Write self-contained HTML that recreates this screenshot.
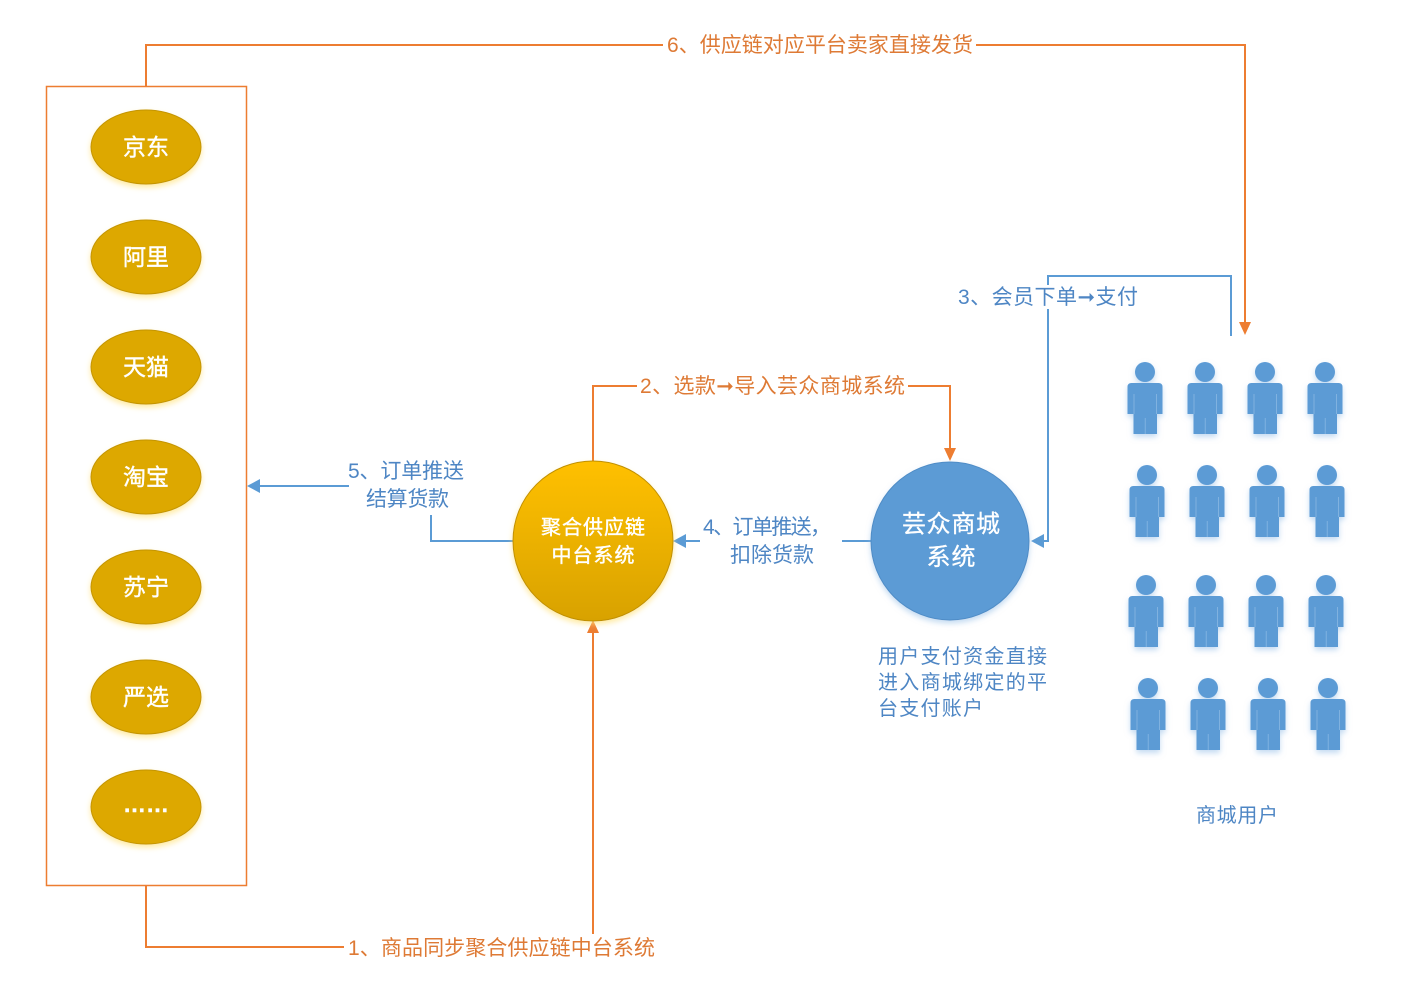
<!DOCTYPE html>
<html>
<head>
<meta charset="utf-8">
<style>
  html,body{margin:0;padding:0;background:#fff;}
  svg{display:block;}
  text{font-family:"Liberation Sans","Noto Sans CJK SC","WenQuanYi Zen Hei",sans-serif;}
</style>
</head>
<body>
<svg width="1424" height="1007" viewBox="0 0 1424 1007" xmlns="http://www.w3.org/2000/svg">
  <defs>
    <linearGradient id="goldG" x1="0" y1="0" x2="0" y2="1">
      <stop offset="0" stop-color="#FFC000"/>
      <stop offset="1" stop-color="#D8A200"/>
    </linearGradient>
    <filter id="glowY" x="-30%" y="-30%" width="160%" height="170%">
      <feDropShadow dx="0" dy="3" stdDeviation="3" flood-color="#FFE27A" flood-opacity="0.7"/>
    </filter>
    <filter id="glowB" x="-30%" y="-30%" width="160%" height="170%">
      <feDropShadow dx="0" dy="3" stdDeviation="3" flood-color="#9CC3E8" flood-opacity="0.6"/>
    </filter>
    <g id="person">
      <circle cx="0" cy="10" r="10" fill="#5B9BD5"/>
      <path d="M -17.5 25 Q -17.5 21 -13.5 21 H 13.5 Q 17.5 21 17.5 25 V 52 H 12 V 72 H -11.5 V 52 H -17.5 Z" fill="#5B9BD5"/>
      <line x1="-11" y1="32" x2="-11" y2="52" stroke="#80B2E0" stroke-width="1"/>
      <line x1="11.5" y1="32" x2="11.5" y2="52" stroke="#80B2E0" stroke-width="1"/>
      <line x1="0.25" y1="56" x2="0.25" y2="72" stroke="#80B2E0" stroke-width="1"/>
    </g>
  </defs>

  <!-- Left box -->
  <rect x="46.5" y="86.5" width="200" height="799" fill="none" stroke="#ED7D31" stroke-width="1.5"/>

  <!-- Platform ellipses -->
  <g filter="url(#glowY)">
    <ellipse cx="146" cy="147" rx="55" ry="37" fill="#DDA800" stroke="#C49500" stroke-width="1"/>
    <ellipse cx="146" cy="257" rx="55" ry="37" fill="#DDA800" stroke="#C49500" stroke-width="1"/>
    <ellipse cx="146" cy="367" rx="55" ry="37" fill="#DDA800" stroke="#C49500" stroke-width="1"/>
    <ellipse cx="146" cy="477" rx="55" ry="37" fill="#DDA800" stroke="#C49500" stroke-width="1"/>
    <ellipse cx="146" cy="587" rx="55" ry="37" fill="#DDA800" stroke="#C49500" stroke-width="1"/>
    <ellipse cx="146" cy="697" rx="55" ry="37" fill="#DDA800" stroke="#C49500" stroke-width="1"/>
    <ellipse cx="146" cy="807" rx="55" ry="37" fill="#DDA800" stroke="#C49500" stroke-width="1"/>
  </g>
  <g fill="#FFFFFF" stroke="#FFFFFF" stroke-width="0.4" font-size="23" text-anchor="middle">
    <text x="146" y="155">京东</text>
    <text x="146" y="265">阿里</text>
    <text x="146" y="375">天猫</text>
    <text x="146" y="485">淘宝</text>
    <text x="146" y="595">苏宁</text>
    <text x="146" y="705">严选</text>
    <text x="146" y="812" font-weight="bold">……</text>
  </g>

  <!-- Connector 6 (top) -->
  <polyline points="146,86 146,45 1245,45 1245,324" fill="none" stroke="#ED7D31" stroke-width="2"/>
  <polygon points="1239,322 1251,322 1245,335" fill="#ED7D31"/>
  <rect x="663" y="33" width="313" height="24" fill="#fff"/>
  <text x="667" y="52" font-size="21" fill="#DE7A35" textLength="306" lengthAdjust="spacing">6、供应链对应平台卖家直接发货</text>

  <!-- Connector 1 (bottom) -->
  <polyline points="146,886 146,947 593,947" fill="none" stroke="#ED7D31" stroke-width="2"/>
  <line x1="593" y1="947" x2="593" y2="630" stroke="#ED7D31" stroke-width="2"/>
  <polygon points="587,633 599,633 593,620" fill="#ED7D31"/>
  <rect x="344" y="934" width="316" height="26" fill="#fff"/>
  <text x="348" y="955" font-size="21" fill="#DE7A35" textLength="307" lengthAdjust="spacing">1、商品同步聚合供应链中台系统</text>

  <!-- Connector 2 -->
  <polyline points="593,462 593,386 950,386 950,450" fill="none" stroke="#ED7D31" stroke-width="2"/>
  <polygon points="944,448 956,448 950,461" fill="#ED7D31"/>
  <rect x="637" y="374" width="271" height="24" fill="#fff"/>
  <text x="640" y="393" font-size="21" fill="#DE7A35" textLength="265" lengthAdjust="spacing">2、选款➞导入芸众商城系统</text>

  <!-- Connector 4 -->
  <line x1="842" y1="541" x2="872" y2="541" stroke="#5B9BD5" stroke-width="2"/>
  <line x1="686" y1="541" x2="700" y2="541" stroke="#5B9BD5" stroke-width="2"/>
  <polygon points="686,534 686,548 673,541" fill="#5B9BD5"/>
  <text x="703" y="534" font-size="21" fill="#4E86C4" textLength="128" lengthAdjust="spacing">4、订单推送，</text>
  <text x="772" y="562" font-size="21" fill="#4E86C4" text-anchor="middle" textLength="84" lengthAdjust="spacing">扣除货款</text>

  <!-- Connector 5 -->
  <polyline points="513,541 431,541 431,515" fill="none" stroke="#5B9BD5" stroke-width="2"/>
  <line x1="260" y1="486" x2="349" y2="486" stroke="#5B9BD5" stroke-width="2"/>
  <polygon points="260,479 260,493 247,486" fill="#5B9BD5"/>
  <text x="348" y="478" font-size="21" fill="#4E86C4" textLength="116" lengthAdjust="spacing">5、订单推送</text>
  <text x="366" y="506" font-size="21" fill="#4E86C4" textLength="83" lengthAdjust="spacing">结算货款</text>

  <!-- Connector 3 -->
  <polyline points="1231,336 1231,276 1048,276 1048,541 1044,541" fill="none" stroke="#5B9BD5" stroke-width="2"/>
  <polygon points="1044,534 1044,548 1031,541" fill="#5B9BD5"/>
  <rect x="956" y="285" width="185" height="24" fill="#fff"/>
  <text x="958" y="304" font-size="21" fill="#4E86C4" textLength="180" lengthAdjust="spacing">3、会员下单➞支付</text>

  <!-- Central gold circle -->
  <circle cx="593" cy="541" r="80" fill="url(#goldG)" stroke="#C09000" stroke-width="1" filter="url(#glowY)"/>
  <text x="593" y="534" font-size="20" fill="#FFFFFF" stroke="#FFFFFF" stroke-width="0.4" text-anchor="middle" textLength="104" lengthAdjust="spacing">聚合供应链</text>
  <text x="593" y="562" font-size="20" fill="#FFFFFF" stroke="#FFFFFF" stroke-width="0.4" text-anchor="middle" textLength="83" lengthAdjust="spacing">中台系统</text>

  <!-- Blue circle -->
  <circle cx="950" cy="541" r="79" fill="#5B9BD5" stroke="#4F8CC6" stroke-width="1" filter="url(#glowB)"/>
  <text x="951" y="532" font-size="24" fill="#FFFFFF" stroke="#FFFFFF" stroke-width="0.3" text-anchor="middle" textLength="98" lengthAdjust="spacing">芸众商城</text>
  <text x="951" y="565" font-size="24" fill="#FFFFFF" stroke="#FFFFFF" stroke-width="0.3" text-anchor="middle" textLength="49" lengthAdjust="spacing">系统</text>

  <!-- Description -->
  <g font-size="20" fill="#4E86C4">
    <text x="878" y="663" textLength="169" lengthAdjust="spacing">用户支付资金直接</text>
    <text x="878" y="689" textLength="169" lengthAdjust="spacing">进入商城绑定的平</text>
    <text x="878" y="715" textLength="105" lengthAdjust="spacing">台支付账户</text>
  </g>

  <!-- Users grid -->
  <g filter="url(#glowB)">
    <use href="#person" x="1145" y="362"/>
    <use href="#person" x="1205" y="362"/>
    <use href="#person" x="1265" y="362"/>
    <use href="#person" x="1325" y="362"/>
    <use href="#person" x="1147" y="465"/>
    <use href="#person" x="1207" y="465"/>
    <use href="#person" x="1267" y="465"/>
    <use href="#person" x="1327" y="465"/>
    <use href="#person" x="1146" y="575"/>
    <use href="#person" x="1206" y="575"/>
    <use href="#person" x="1266" y="575"/>
    <use href="#person" x="1326" y="575"/>
    <use href="#person" x="1148" y="678"/>
    <use href="#person" x="1208" y="678"/>
    <use href="#person" x="1268" y="678"/>
    <use href="#person" x="1328" y="678"/>
  </g>
  <text x="1237" y="822" font-size="20" fill="#4E86C4" text-anchor="middle" textLength="82" lengthAdjust="spacing">商城用户</text>
</svg>
</body>
</html>
